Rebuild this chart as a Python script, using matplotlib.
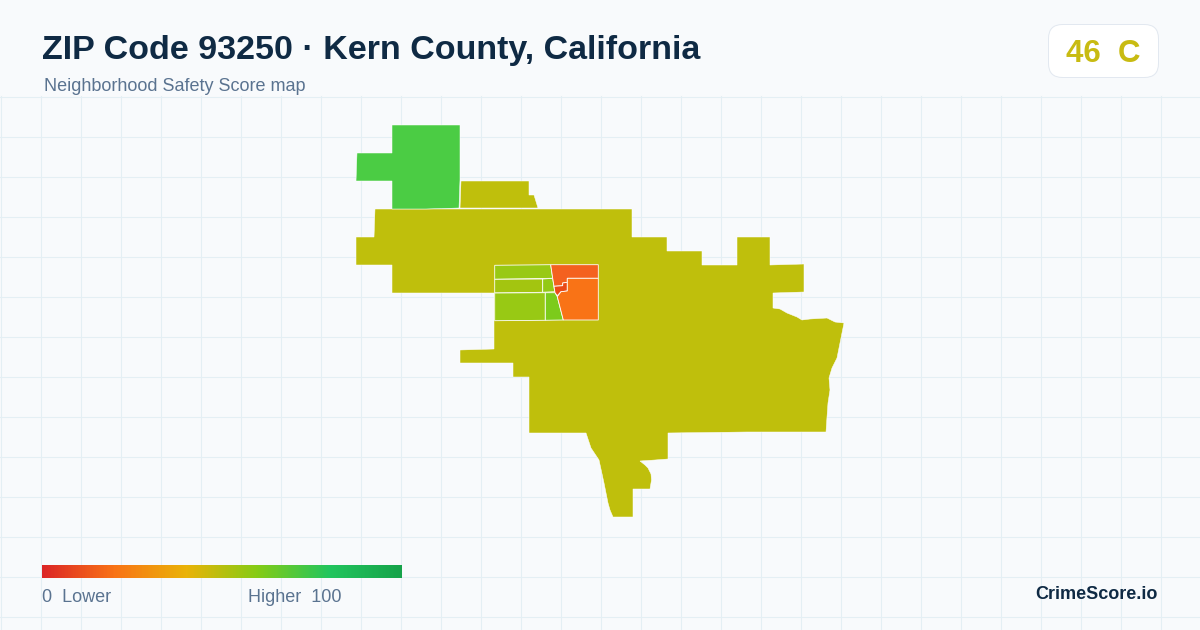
import numpy as np
import matplotlib
matplotlib.use('Agg')
import matplotlib.pyplot as plt
from matplotlib.colors import LinearSegmentedColormap
from matplotlib.patches import FancyBboxPatch, Polygon

plt.rcParams['font.family'] = ['Liberation Sans', 'DejaVu Sans']

title = 'ZIP Code 93250 · Kern County, California'
subtitle = 'Neighborhood Safety Score map'
score_text = '46  C'
legend_low = '0  Lower'
legend_high = 'Higher  100'
brand = 'CrimeScore.io'

# map shapes in pixels
main_area = [(375, 209), (632, 209), (632, 237), (667, 237), (667, 251), (702, 251), (702, 265), (737, 265),
             (737, 237), (770, 237), (770, 265), (804, 264), (804, 292), (773, 293), (773, 308), (780, 309),
             (787, 313), (797, 317), (802, 320), (810, 319), (827, 318), (835, 322), (844, 323), (842, 333),
             (838, 353), (837, 358), (832, 368), (829, 378), (830, 390), (828, 403), (827, 417), (826, 432),
             (747, 432), (668, 433), (668, 459), (655, 460), (640, 461), (645, 465), (648, 468), (651, 474),
             (651.5, 480), (650, 489), (633, 489), (633, 517), (613, 517), (610, 510), (608, 503), (604, 483),
             (599, 460), (595, 454), (591, 448), (589, 442), (586, 433), (529, 433), (529, 377), (513, 377),
             (513, 363), (460, 363), (460, 350), (494, 349), (494, 293), (392, 293), (392, 265), (356, 265),
             (356, 237), (374, 237)]
north_area = [(461, 181), (529, 181), (529, 195), (534, 195), (538, 208), (460, 208)]
nw_area = [(392, 125), (460, 125), (460, 180), (459, 208), (426, 209), (392, 209), (392, 181), (356, 181),
           (357, 153), (392, 153)]
west_top = [(494.7, 265.3), (550.7, 264.7), (552.7, 278.3), (494.7, 279.3)]
west_mid = [(494.7, 279.3), (542.7, 279), (542.7, 292.3), (494.7, 293)]
west_small = [(542.7, 279), (552.7, 278.3), (554.7, 291.7), (542.7, 292.3)]
west_low = [(494.7, 293), (545.3, 292.7), (545.3, 320.3), (494.7, 320.7)]
center_low = [(545.3, 292.7), (555, 292.7), (557.3, 296.7), (563.3, 320), (545.3, 320.3)]
east_top = [(550.7, 264.7), (598.3, 264.7), (598.3, 278.3), (567.3, 278.3), (567.3, 282.3), (562.7, 283),
            (562.7, 285.7), (554, 286.3), (552.7, 278.3)]
center_red = [(554, 286.3), (562.7, 285.7), (562.7, 283), (567.3, 282.3), (567.3, 291), (561, 291.7),
              (557.3, 295.7), (555, 292.7)]
east_low = [(567.3, 278.3), (598.3, 278.3), (598.3, 320), (563.3, 320), (557.3, 296.7), (561, 291.7),
            (567.3, 291)]

outer_areas = [main_area, north_area, nw_area]
outer_colors = ['#bfbf0c', '#bfbf0c', '#4bcc44']
inner_areas = [west_top, west_mid, west_small, west_low, center_low, east_top, center_red, east_low]
inner_colors = ['#98c914', '#a3c510', '#93c915', '#98c914', '#7ccb1b', '#f4611f', '#ea4a18', '#f97316']
scale_colors = ['#dc2626', '#f97316', '#eab308', '#84cc16', '#22c55e', '#16a34a']

fig = plt.figure(figsize=(12, 6.3), dpi=100, facecolor='#f8fafc')
ax = fig.add_axes([0, 0, 1, 1])
ax.set_facecolor('#f8fafc')

# background grid starts below the header
for gx in np.arange(0, 1200, 40):
    ax.plot([gx + 0.5, gx + 0.5], [96, 630], color='#e4eff4', lw=0.75, zorder=1)
for gy in np.arange(96, 630, 40):
    ax.plot([0, 1200], [gy + 0.5, gy + 0.5], color='#e4eff4', lw=0.75, zorder=1)

for shape, color in zip(outer_areas, outer_colors):
    ax.add_patch(Polygon(shape, closed=True, facecolor=color, edgecolor='white', lw=0.35, zorder=2))
for shape, color in zip(inner_areas, inner_colors):
    ax.add_patch(Polygon(shape, closed=True, facecolor=color, edgecolor='white', lw=0.6, zorder=3))

ax.text(42, 59, title, fontsize=24.5, fontweight='bold', color='#0f2a44', va='baseline', zorder=5)
ax.text(44, 91, subtitle, fontsize=12.96, color='#5a7390', va='baseline', zorder=5)

# score badge
ax.add_patch(FancyBboxPatch((1048.5 + 14, 24.5 + 14), 110 - 28, 53 - 28, boxstyle='round,pad=14,rounding_size=14',
                            facecolor='white', edgecolor='#e2e8f0', lw=0.72, zorder=4))
ax.text(1103, 62, score_text, fontsize=22.5, fontweight='bold', color='#c8bb12', ha='center', va='baseline', zorder=5)

# legend gradient
cmap = LinearSegmentedColormap.from_list('score', scale_colors)
ax.imshow(np.linspace(0, 1, 360).reshape(1, -1), cmap=cmap, extent=(42, 402, 578, 565), aspect='auto', zorder=4)
ax.text(42, 602, legend_low, fontsize=12.96, color='#5a7390', va='baseline', zorder=5)
ax.text(342, 602, legend_high, fontsize=12.96, color='#5a7390', ha='right', va='baseline', zorder=5)
ax.text(1158, 599, brand, fontsize=13, fontweight='bold', color='#0f2a44', ha='right', va='baseline', zorder=5)

ax.set_xlim(0, 1200)
ax.set_ylim(630, 0)
ax.axis('off')
fig.savefig('out.png', dpi=100, facecolor=fig.get_facecolor())
